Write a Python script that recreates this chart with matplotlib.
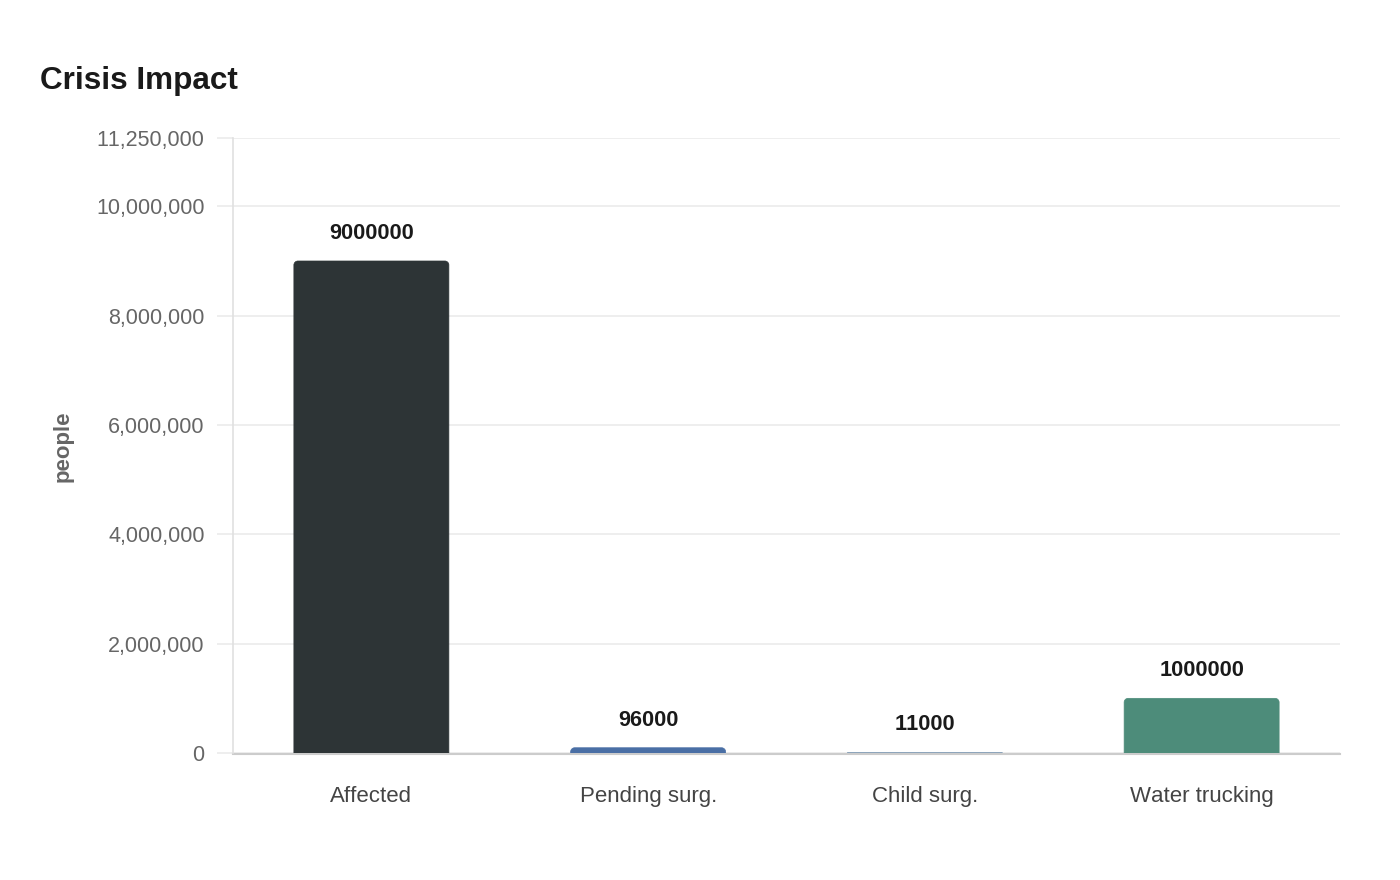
import matplotlib
matplotlib.use("Agg")
import matplotlib.pyplot as plt
from matplotlib.path import Path
from matplotlib.patches import PathPatch
from matplotlib.ticker import FuncFormatter

plt.rcParams['font.family'] = ['Liberation Sans', 'DejaVu Sans']
plt.rcParams['text.kerning_factor'] = 6

categories = ["Affected", "Pending surg.", "Child surg.", "Water trucking"]
values = [9000000, 96000, 11000, 1000000]
colors = ["#2d3436", "#4a6fa5", "#8ea5bb", "#4d8c7a"]
yticks = [0, 2000000, 4000000, 6000000, 8000000, 10000000, 11250000]
ymax = 11250000

fig = plt.figure(figsize=(14, 8.8), dpi=100)
ax = fig.add_axes([233/1400, 1-753/880, (1340-233)/1400, (753-138)/880])
ax.set_xlim(-0.5, len(categories)-0.5)
ax.set_ylim(0, ymax)

bar_w = 0.56
ax_w_px = 1340-233
ax_h_px = 753-138
dx_px = len(categories)/ax_w_px
dy_px = ymax/ax_h_px
r_px = 4

bars = ax.bar(range(len(categories)), values, width=bar_w, color=colors)
for b, c in zip(bars, colors):
    x0 = b.get_x()
    w, h = b.get_width(), b.get_height()
    b.set_visible(False)
    rp = min(r_px, h/dy_px)
    rx = rp*dx_px
    ry = rp*dy_px
    k = 0.5523
    verts = [(x0, 0), (x0, h-ry),
             (x0, h-ry+k*ry), (x0+rx-k*rx, h), (x0+rx, h),
             (x0+w-rx, h),
             (x0+w-rx+k*rx, h), (x0+w, h-ry+k*ry), (x0+w, h-ry),
             (x0+w, 0), (x0, 0)]
    codes = [Path.MOVETO, Path.LINETO,
             Path.CURVE4, Path.CURVE4, Path.CURVE4,
             Path.LINETO,
             Path.CURVE4, Path.CURVE4, Path.CURVE4,
             Path.LINETO, Path.CLOSEPOLY]
    ax.add_patch(PathPatch(Path(verts, codes), facecolor=c, edgecolor=c,
                           linewidth=0.5, zorder=3))

for i, v in enumerate(values):
    ax.annotate(f"{v}", xy=(i, v), xytext=(0, 27.5), textcoords='offset pixels',
                ha='center', va='center', fontsize=15.7, fontweight='bold', color='#1a1a1a', zorder=4)

ax.set_yticks(yticks)
ax.yaxis.set_major_formatter(FuncFormatter(lambda v, p: f"{int(v):,}"))
ax.set_xticks(range(len(categories)))
ax.set_xticklabels(categories)
ax.grid(axis='y', color='#ebebeb', linewidth=1.2, zorder=0)
ax.set_axisbelow(True)
ax.tick_params(axis='y', length=11.5, width=1.2, color='#ebebeb', pad=9, labelsize=15.5, labelcolor='#666666')
ax.tick_params(axis='x', length=0, pad=22.5, labelsize=16, labelcolor='#444444')
for s in ['top', 'right']:
    ax.spines[s].set_visible(False)
ax.spines['left'].set_color('#e0e0e0')
ax.spines['left'].set_linewidth(1.2)
ax.spines['bottom'].set_color('#cccccc')
ax.spines['bottom'].set_linewidth(1.5)
ax.spines['bottom'].set_position(('outward', 1))
ax.spines['bottom'].set_zorder(2)

fig.text(63/1400, 1-446/880, "people", rotation=90, ha='center', va='center',
         fontsize=16, fontweight='bold', color='#666666')
fig.text(40/1400, 1-81.5/880, "Crisis Impact", ha='left', va='center',
         fontsize=22.7, fontweight='bold', color='#1a1a1a')

fig.savefig("out.png", dpi=100, facecolor='white')
